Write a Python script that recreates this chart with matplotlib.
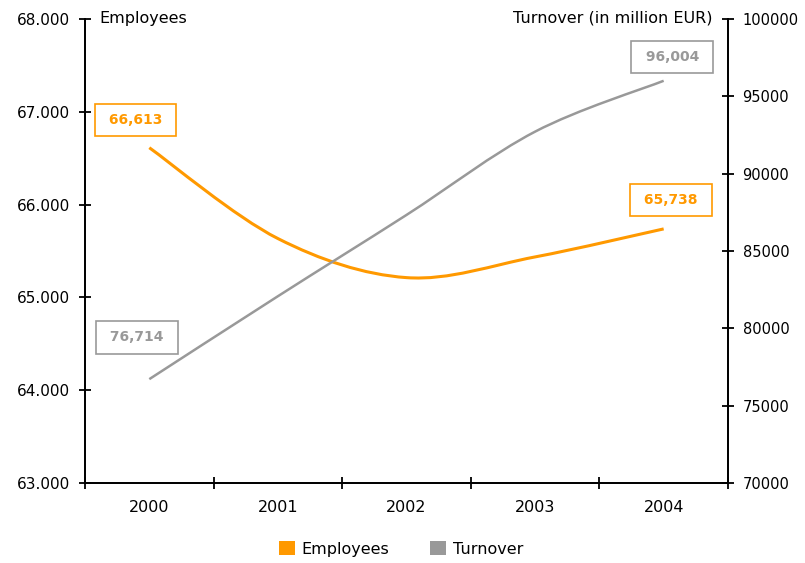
import numpy as np
import matplotlib
matplotlib.use("Agg")
from matplotlib import pyplot as plt
from matplotlib.path import Path
from matplotlib.patches import PathPatch, Patch
from matplotlib.ticker import FuncFormatter, FixedLocator

# данные
years = ['2000', '2001', '2002', '2003', '2004']
employees = [66613, 65634, 65213, 65436, 65738]
turnover = [76714, 82075, 87330, 92715, 96004]

ORANGE = '#ff9900'
GREY = '#999999'

plt.rcParams['font.family'] = 'DejaVu Sans'


def smooth_path(xs, ys):
    # сглаженная линия через точки (Catmull-Rom -> кубические Безье)
    pts = np.column_stack([xs, ys]).astype(float)
    verts = [pts[0]]
    codes = [Path.MOVETO]
    n = len(pts)
    for i in range(n - 1):
        p0 = pts[max(i - 1, 0)]
        p1 = pts[i]
        p2 = pts[i + 1]
        p3 = pts[min(i + 2, n - 1)]
        c1 = p1 + (p2 - p0) / 6.0
        c2 = p2 - (p3 - p1) / 6.0
        verts += [c1, c2, p2]
        codes += [Path.CURVE4] * 3
    return Path(verts, codes)


fig = plt.figure(figsize=(8.05, 5.63), dpi=100)
ax = fig.add_axes([0.1056, 0.1421, 0.7987, 0.8242])
ax2 = ax.twinx()

x = np.arange(len(years))
ax.set_xlim(-0.5, len(years) - 0.5)
ax.set_ylim(63000, 68000)
ax2.set_ylim(70000, 100000)

ax.add_patch(PathPatch(smooth_path(x, employees), fill=False, edgecolor=ORANGE,
                       linewidth=2.2, capstyle='butt', zorder=3))
ax2.add_patch(PathPatch(smooth_path(x, turnover), fill=False, edgecolor=GREY,
                        linewidth=1.8, capstyle='butt', zorder=3))

# оси
for a in (ax, ax2):
    a.spines['top'].set_visible(False)
    for s in ('left', 'right', 'bottom'):
        a.spines[s].set_linewidth(1.3)
ax.xaxis.set_major_locator(FixedLocator(np.arange(-0.5, len(years), 1.0)))
ax.xaxis.set_major_formatter(FuncFormatter(lambda v, p: ''))
ax.set_xticks(x, minor=True)
ax.set_xticklabels(years, minor=True)
ax.tick_params(axis='x', which='major', direction='inout', length=9, width=1.3)
ax.tick_params(axis='x', which='minor', length=0, pad=12, labelsize=11.5)

ax.set_yticks(np.arange(63000, 68001, 1000))
ax.yaxis.set_major_formatter(FuncFormatter(lambda v, p: f"{int(v):,}".replace(',', '.')))
ax.tick_params(axis='y', direction='inout', length=9, width=1.3, labelsize=11, pad=6)

ax2.set_yticks(np.arange(70000, 100001, 5000))
ax2.yaxis.set_major_formatter(FuncFormatter(lambda v, p: f"{int(v)}"))
ax2.tick_params(axis='y', direction='inout', length=9, width=1.3, labelsize=10.5, pad=6)

fig.text(0.124, 1 - 18 / 563, 'Employees', fontsize=11.5, ha='left', va='center')
fig.text(0.885, 1 - 18 / 563, 'Turnover (in million EUR)', fontsize=11.5, ha='right', va='center')

# подписи значений в рамках
def value_box(axis, i, vals, color, offset):
    axis.annotate(f" {vals[i]:,} ", (x[i], vals[i]), xytext=offset, textcoords='offset points',
                  ha='center', va='center', color=color, fontsize=10, fontweight='bold',
                  bbox=dict(boxstyle='square,pad=0.65', fc='white', ec=color, lw=1.2),
                  zorder=5)

value_box(ax, 0, employees, ORANGE, (-9.7, 20.2))
value_box(ax, 4, employees, ORANGE, (5.4, 20.5))
value_box(ax2, 0, turnover, GREY, (-9, 30))
value_box(ax2, 4, turnover, GREY, (6.1, 17.3))

handles = [Patch(facecolor=ORANGE, edgecolor='none', label='Employees'),
           Patch(facecolor=GREY, edgecolor='none', label='Turnover')]
fig.legend(handles=handles, loc='center', bbox_to_anchor=(0.498, 1 - 549 / 563), ncol=2,
           frameon=False, fontsize=11.5, handlelength=1.0, handleheight=1.0,
           handletextpad=0.45, columnspacing=2.5)

fig.savefig('out.png', dpi=100)
